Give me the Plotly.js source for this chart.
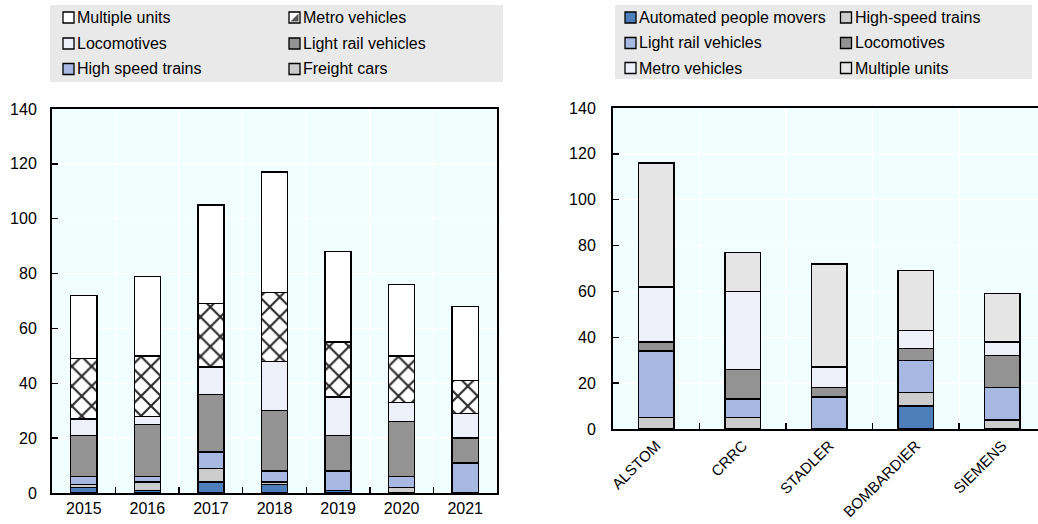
<!DOCTYPE html>
<html><head><meta charset="utf-8">
<script src="https://cdn.plot.ly/plotly-3.0.1.min.js"></script>
<style>html,body{margin:0;padding:0;background:#fff}#chart{width:1038px;height:524px}</style>
</head><body><div id="chart"></div>
<script>
// Left panel: deliveries by year
const years = ['2015','2016','2017','2018','2019','2020','2021'];
const leftAPM = [2, 1, 4, 3, 1, 0, 0];
const leftFreight = [1, 3, 5, 1, 0, 2, 0];
const leftHighSpeed = [3, 2, 6, 4, 7, 4, 11];
const leftLightRail = [15, 19, 21, 22, 13, 20, 9];
const leftLocomotives = [6, 3, 10, 18, 14, 7, 9];
const leftMetro = [22, 22, 23, 25, 20, 17, 12];
const leftMultiple = [23, 29, 36, 44, 33, 26, 27];

// Right panel: by manufacturer
const makers = ['ALSTOM','CRRC','STADLER','BOMBARDIER','SIEMENS'];
const rightAPM = [0, 0, 0, 10, 0];
const rightHighSpeed = [5, 5, 0, 6, 4];
const rightLightRail = [29, 8, 14, 14, 14];
const rightLocomotives = [4, 13, 4, 5, 14];
const rightMetro = [24, 34, 9, 8, 6];
const rightMultiple = [54, 17, 45, 26, 21];

// Legend labels (row-major, two columns)
const leftLegendLabels = ['Multiple units','Metro vehicles','Locomotives','Light rail vehicles','High speed trains','Freight cars'];
const rightLegendLabels = ['Automated people movers','High-speed trains','Light rail vehicles','Locomotives','Metro vehicles','Multiple units'];

const C = {
  apm: '#4f7fbb', lblue: '#a7b8e2', dgray: '#939393', lgray: '#cccccc',
  lav: '#edf0f8', white: '#ffffff', mu2: '#e5e5e5'
};
const leftLegendColors = [C.white, 'hatch', C.lav, C.dgray, C.lblue, C.lgray];
const rightLegendColors = [C.apm, C.lgray, C.lblue, C.dgray, C.lav, C.mu2];

const FONT = 'Liberation Sans, Arial, sans-serif';
const W = 1038, H = 524;
const line = {color: '#000', width: 1.4};

function bar(name, x, y, color, xa, ya, extra) {
  return Object.assign({
    type: 'bar', name: name, x: x, y: y, xaxis: xa, yaxis: ya, showlegend: false,
    marker: {color: color, line: line}, hoverinfo: 'x+y+name'
  }, extra || {});
}

const traces = [
  bar('Automated people movers', years, leftAPM, C.apm, 'x', 'y'),
  bar('Freight cars', years, leftFreight, C.lgray, 'x', 'y'),
  bar('High speed trains', years, leftHighSpeed, C.lblue, 'x', 'y'),
  bar('Light rail vehicles', years, leftLightRail, C.dgray, 'x', 'y'),
  bar('Locomotives', years, leftLocomotives, C.lav, 'x', 'y'),
  bar('Metro vehicles', years, leftMetro, '#ffffff', 'x', 'y', {
    marker: {color: '#ffffff', line: line,
      pattern: {shape: 'x', fgcolor: '#2a2a2a', bgcolor: '#ffffff', size: 14, solidity: 0.28, fillmode: 'replace'}}}),
  bar('Multiple units', years, leftMultiple, C.white, 'x', 'y'),

  bar('Automated people movers', makers, rightAPM, C.apm, 'x2', 'y2'),
  bar('High-speed trains', makers, rightHighSpeed, C.lgray, 'x2', 'y2'),
  bar('Light rail vehicles', makers, rightLightRail, C.lblue, 'x2', 'y2'),
  bar('Locomotives', makers, rightLocomotives, C.dgray, 'x2', 'y2'),
  bar('Metro vehicles', makers, rightMetro, C.lav, 'x2', 'y2'),
  bar('Multiple units', makers, rightMultiple, C.mu2, 'x2', 'y2')
];

const yCommon = {
  range: [0, 140], dtick: 20, tick0: 0, showgrid: true, gridcolor: '#ffffff', gridwidth: 1.5,
  zeroline: false, showline: true, linecolor: '#000', linewidth: 2, mirror: true,
  ticks: 'inside', ticklen: 6, tickcolor: '#000', tickwidth: 1.5,
  tickfont: {size: 16, family: FONT, color: '#000'}, fixedrange: true
};
const xCommon = {
  type: 'category', tickson: 'boundaries', showgrid: true, gridcolor: '#ffffff', gridwidth: 1.5,
  zeroline: false, showline: true, linecolor: '#000', linewidth: 2, mirror: true,
  ticks: 'inside', ticklen: 6, tickcolor: '#000', tickwidth: 1.5,
  tickfont: {size: 16, family: FONT, color: '#000'}, fixedrange: true
};

// Manual legends (grey boxes, swatches, labels)
const shapes = [
  {type: 'rect', xref: 'paper', yref: 'paper', layer: 'below',
   x0: 50 / W, x1: 503 / W, y0: 1 - 82 / H, y1: 1 - 5 / H, fillcolor: '#e9e9e9', line: {width: 0}},
  {type: 'rect', xref: 'paper', yref: 'paper', layer: 'below',
   x0: 615 / W, x1: 1032 / W, y0: 1 - 79 / H, y1: 1 - 5 / H, fillcolor: '#e9e9e9', line: {width: 0}}
];
const annotations = [];
function addLegend(labels, colors, colX, textX, rowY) {
  labels.forEach((lab, i) => {
    const c = i % 2, r = Math.floor(i / 2);
    const sx = colX[c], sy = rowY[r], s = 11;
    const fill = colors[i] === 'hatch' ? '#ffffff' : colors[i];
    shapes.push({type: 'rect', xref: 'paper', yref: 'paper',
      x0: sx / W, x1: (sx + s) / W, y0: 1 - (sy + s / 2) / H, y1: 1 - (sy - s / 2) / H,
      fillcolor: fill, line: {color: '#000', width: 1.3}});
    if (colors[i] === 'hatch') {
      const x0 = sx + 1.5, x1 = sx + s - 1.5, yT = sy - s / 2 + 1.5, yB = sy + s / 2 - 1.5;
      shapes.push({type: 'path', xref: 'paper', yref: 'paper',
        path: `M ${x0 / W} ${1 - yB / H} L ${x1 / W} ${1 - yT / H} L ${x1 / W} ${1 - yB / H} Z`,
        fillcolor: '#555555', line: {width: 0}});
    }
    annotations.push({xref: 'paper', yref: 'paper', x: textX[c] / W, y: 1 - sy / H,
      xanchor: 'left', yanchor: 'middle', showarrow: false, text: lab,
      font: {size: 16, family: FONT, color: '#000'}});
  });
}
addLegend(leftLegendLabels, leftLegendColors, [63, 289], [75, 301], [17.5, 43.5, 69]);
addLegend(rightLegendLabels, rightLegendColors, [625, 840.5], [637, 852.5], [17.5, 43, 68]);

const layout = {
  width: W, height: H,
  margin: {l: 0, r: 0, t: 0, b: 0},
  paper_bgcolor: '#ffffff',
  plot_bgcolor: '#f1fefe',
  font: {family: FONT, size: 16, color: '#000'},
  barmode: 'stack', bargap: 0.59,
  showlegend: false,
  xaxis: Object.assign({}, xCommon, {domain: [52 / W, 497 / W], anchor: 'y', range: [-0.5, 6.5]}),
  yaxis: Object.assign({}, yCommon, {domain: [31 / H, 415 / H], anchor: 'x', ticklabelstandoff: 10}),
  xaxis2: Object.assign({}, xCommon, {domain: [613 / W, 1], anchor: 'y2', range: [-0.5, 4.413], tickangle: -45,
    tickfont: {size: 15, family: FONT, color: '#000'}}),
  yaxis2: Object.assign({}, yCommon, {domain: [95 / H, 416 / H], anchor: 'x2', ticklabelstandoff: 12}),
  shapes: shapes,
  annotations: annotations
};

Plotly.newPlot('chart', traces, layout, {displayModeBar: false, staticPlot: true});
</script>
</body></html>
